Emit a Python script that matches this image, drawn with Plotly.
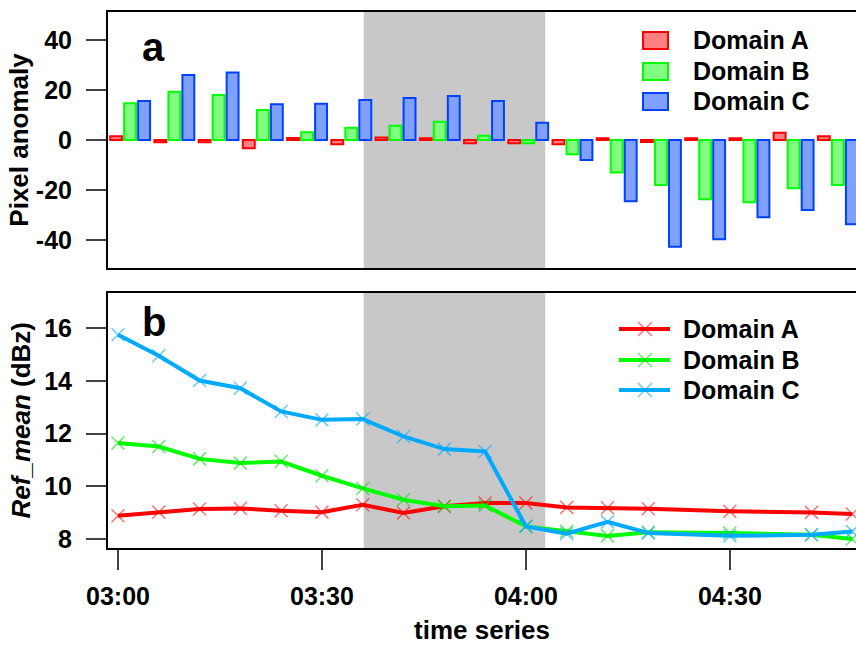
import plotly.graph_objects as go

# ---------------- data ----------------
times = ["03:00", "03:06", "03:12", "03:18", "03:24", "03:30", "03:36", "03:42", "03:48",
         "03:54", "04:00", "04:06", "04:12", "04:18", "04:30", "04:42", "04:48"]
series_names = ["Domain A", "Domain B", "Domain C"]

anom_A = [1.5, -0.9, -0.9, -3.3, 0.8, -1.7, 1.0, 0.7, -1.3, -1.3, -1.7, 0.7, -0.8, 0.7, 0.7, 2.9, 1.5]
anom_B = [14.7, 19.3, 18.0, 12.0, 3.1, 4.9, 5.7, 7.3, 1.7, -1.3, -5.7, -13.0, -18.0, -23.7, -24.9, -19.3, -18.0]
anom_C = [15.6, 26.0, 27.0, 14.3, 14.5, 16.0, 16.8, 17.6, 15.6, 6.9, -8.0, -24.5, -42.7, -39.7, -30.9, -28.0, -33.7]

ref_A = [8.88, 9.02, 9.14, 9.16, 9.07, 9.02, 9.30, 8.99, 9.24, 9.37, 9.37, 9.20, 9.19, 9.15, 9.05, 9.01, 8.95]
ref_B = [11.64, 11.51, 11.04, 10.88, 10.94, 10.40, 9.92, 9.49, 9.24, 9.27, 8.48, 8.29, 8.12, 8.26, 8.23, 8.16, 8.00]
ref_C = [15.75, 14.95, 14.01, 13.72, 12.84, 12.52, 12.55, 11.89, 11.41, 11.32, 8.48, 8.20, 8.65, 8.23, 8.12, 8.16, 8.29]

top_yticks = [-40, -20, 0, 20, 40]
top_yticklabels = ["-40", "-20", "0", "20", "40"]
bot_yticks = [8, 10, 12, 14, 16]
bot_yticklabels = ["8", "10", "12", "14", "16"]
x_ticklabels = ["03:00", "03:30", "04:00", "04:30"]
shade_period = ["03:36:08", "04:02:51"]

# ---------------- style ----------------
DAY = "2024-01-01 "
FONT = "Liberation Sans, Arial, sans-serif"
bar_fill = ["rgb(255,128,128)", "rgb(128,255,128)", "rgb(128,160,255)"]
bar_edge = ["rgb(255,0,0)", "rgb(0,255,0)", "rgb(0,64,255)"]
line_col = ["rgb(255,0,0)", "rgb(0,255,0)", "rgb(0,170,255)"]
mark_col = ["rgba(255,0,0,0.55)", "rgba(0,220,0,0.6)", "rgba(0,170,255,0.6)"]
FS = 25

x_dt = [DAY + t for t in times]

fig = go.Figure()

for name, vals, fc, ec in zip(series_names, [anom_A, anom_B, anom_C], bar_fill, bar_edge):
    fig.add_trace(go.Bar(
        x=times, y=vals, name=name, xaxis="x", yaxis="y",
        marker=dict(color=fc, line=dict(color=ec, width=2)),
        showlegend=False,
    ))

for name, vals, lc, mc in zip(series_names, [ref_A, ref_B, ref_C], line_col, mark_col):
    fig.add_trace(go.Scatter(
        x=x_dt, y=vals, name=name, xaxis="x2", yaxis="y2", mode="lines+markers",
        line=dict(color=lc, width=4),
        marker=dict(symbol="x-thin", size=13, line=dict(color=mc, width=1.5)),
        showlegend=False,
    ))

# layout geometry (pixels -> paper)
W, H = 856, 645
ML, MR, MT, MB = 108, 0, 12, 97
PW, PH = W - ML - MR, H - MT - MB


def px(xp):
    return (xp - ML) / PW


def py(yp):
    return (H - MB - yp) / PH


axis_common = dict(showline=True, linecolor="black", linewidth=2, zeroline=False,
                   showgrid=False, automargin=False)
tickfont = dict(family=FONT, size=FS, color="black", weight="bold")
titlefont = dict(family=FONT, size=26, color="black", weight="bold")
legfont = dict(family=FONT, size=FS, color="black", weight="bold")

shapes = []
for yref in ["y domain", "y2 domain"]:
    shapes.append(dict(type="rect", xref="x2", yref=yref,
                       x0=DAY + shade_period[0], x1=DAY + shade_period[1], y0=0, y1=1,
                       fillcolor="rgb(200,200,200)", line=dict(width=0), layer="below"))

annotations = [
    dict(text="a", xref="paper", yref="paper", x=px(140), y=py(47), xanchor="left",
         yanchor="middle", showarrow=False, font=dict(family=FONT, size=40, weight="bold", color="black")),
    dict(text="b", xref="paper", yref="paper", x=px(140), y=py(322), xanchor="left",
         yanchor="middle", showarrow=False, font=dict(family=FONT, size=40, weight="bold", color="black")),
]

# legend for the bar panel (rectangular swatches as in the reference)
row_y = [40.5, 71.5, 101.5]
for name, fc, ec, ry in zip(series_names, bar_fill, bar_edge, row_y):
    shapes.append(dict(type="rect", xref="paper", yref="paper",
                       x0=px(643), x1=px(668), y0=py(ry + 8.5), y1=py(ry - 8.5),
                       fillcolor=fc, line=dict(color=ec, width=2)))
    annotations.append(dict(text=name, xref="paper", yref="paper", x=px(691), y=py(ry),
                            xanchor="left", yanchor="middle", showarrow=False, font=legfont))

# legend for the line panel (line + x marker)
row_y2 = [329, 360, 390]
for name, lc, mc, ry in zip(series_names, line_col, mark_col, row_y2):
    shapes.append(dict(type="line", xref="paper", yref="paper",
                       x0=px(619), x1=px(670), y0=py(ry), y1=py(ry),
                       line=dict(color=lc, width=4)))
    for sgn in (1, -1):
        shapes.append(dict(type="line", xref="paper", yref="paper",
                           x0=px(638), x1=px(652), y0=py(ry - 7 * sgn), y1=py(ry + 7 * sgn),
                           line=dict(color=mc, width=1.5)))
    annotations.append(dict(text=name, xref="paper", yref="paper", x=px(681), y=py(ry),
                            xanchor="left", yanchor="middle", showarrow=False, font=legfont))

fig.update_layout(
    width=W, height=H,
    margin=dict(l=ML, r=MR, t=MT, b=MB, pad=0),
    paper_bgcolor="white", plot_bgcolor="white",
    font=dict(family=FONT, color="black"),
    showlegend=False,
    barmode="group", bargap=0.05, bargroupgap=0.15,
    xaxis=dict(**axis_common, domain=[0, 1], anchor="y", type="category", mirror=True,
               range=[-0.5, 16.41], showticklabels=False, ticks=""),
    yaxis=dict(**axis_common, domain=[py(268), 1], anchor="x", range=[-51.2, 51.2],
               tickvals=top_yticks, ticktext=top_yticklabels, ticks="outside", ticklen=20,
               tickwidth=2, tickfont=tickfont, ticklabelstandoff=9,
               title=dict(text="Pixel anomaly", font=titlefont, standoff=0)),
    xaxis2=dict(**axis_common, domain=[0, 1], anchor="y2", type="date", mirror=True,
                range=[DAY + "02:58:32", DAY + "04:48:33"],
                tickvals=[DAY + t for t in x_ticklabels], ticktext=x_ticklabels,
                ticks="outside", ticklen=20, tickwidth=2, tickfont=tickfont,
                ticklabelstandoff=5,
                title=dict(text="time series", font=titlefont, standoff=14)),
    yaxis2=dict(**axis_common, domain=[0, py(292.5)], anchor="x2", range=[7.66, 17.35],
                tickvals=bot_yticks, ticktext=bot_yticklabels, ticks="outside", ticklen=20,
                tickwidth=2, tickfont=tickfont, ticklabelstandoff=9,
                title=dict(text="<i>Ref_mean</i> (dBz)", font=titlefont, standoff=6)),
    shapes=shapes,
    annotations=annotations,
)

fig.write_html("out.html", config={"displayModeBar": False},
               post_script="document.body.style.margin='0px';")
